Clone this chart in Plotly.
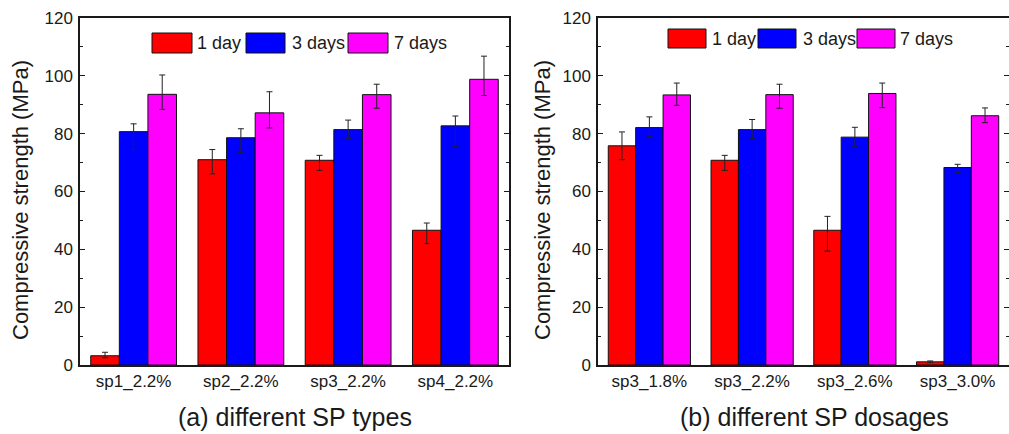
import plotly.graph_objects as go

# ---------------- data ----------------
series_names = ["1 day", "3 days", "7 days"]
series_colors = ["#FF0000", "#0000FF", "#FF00FF"]

cats_a = ["sp1_2.2%", "sp2_2.2%", "sp3_2.2%", "sp4_2.2%"]
a_1d = [3.2, 71.0, 70.8, 46.6]
a_1d_up = [1.2, 3.5, 1.7, 2.5]
a_1d_dn = [0.7, 4.9, 3.5, 4.6]
a_3d = [80.7, 78.6, 81.4, 82.7]
a_3d_up = [2.7, 3.1, 3.3, 3.4]
a_3d_dn = [6.1, 5.2, 3.0, 7.2]
a_7d = [93.6, 87.2, 93.5, 98.8]
a_7d_up = [6.7, 7.3, 3.6, 8.0]
a_7d_dn = [5.2, 5.2, 4.7, 5.6]

cats_b = ["sp3_1.8%", "sp3_2.2%", "sp3_2.6%", "sp3_3.0%"]
b_1d = [75.8, 70.8, 46.6, 1.1]
b_1d_up = [4.8, 1.7, 4.8, 0.3]
b_1d_dn = [4.8, 3.5, 7.2, 0.3]
b_3d = [82.1, 81.4, 78.8, 68.3]
b_3d_up = [3.7, 3.5, 3.4, 1.1]
b_3d_dn = [3.0, 3.0, 3.1, 1.7]
b_7d = [93.4, 93.5, 93.9, 86.2]
b_7d_up = [4.1, 3.6, 3.6, 2.7]
b_7d_dn = [3.6, 4.7, 4.9, 2.4]

y_ticks = [0, 20, 40, 60, 80, 100, 120]
y_title = "Compressive strength (MPa)"
sub_a = "(a) different SP types"
sub_b = "(b) different SP dosages"

FONT = "Arial, Liberation Sans, sans-serif"
INK = "#1a1a1a"

fig = go.Figure()

panel_a = [(a_1d, a_1d_up, a_1d_dn), (a_3d, a_3d_up, a_3d_dn), (a_7d, a_7d_up, a_7d_dn)]
panel_b = [(b_1d, b_1d_up, b_1d_dn), (b_3d, b_3d_up, b_3d_dn), (b_7d, b_7d_up, b_7d_dn)]

for cats, panel, xa, ya in [(cats_a, panel_a, "x", "y"), (cats_b, panel_b, "x2", "y2")]:
    for (vals, up, dn), name, col in zip(panel, series_names, series_colors):
        fig.add_trace(go.Bar(
            x=cats, y=vals, name=name, xaxis=xa, yaxis=ya, showlegend=False,
            marker=dict(color=col, line=dict(color="#111", width=1)),
            error_y=dict(type="data", symmetric=False, array=up, arrayminus=dn,
                         color="#222", thickness=1, width=3),
        ))

W, H = 1009, 434
xa_dom = [80 / W, 509 / W]
xb_dom = [598 / W, 1.0]
y_dom = [1 - 365 / H, 1 - 18 / H]

xcommon = dict(type="category", range=[-0.5, 3.5], showline=True, linewidth=1.5,
               linecolor=INK, mirror=True, ticks="", showgrid=False, zeroline=False,
               automargin=False,
               tickfont=dict(family=FONT, size=17, color=INK))
ycommon = dict(range=[0, 120], tickvals=y_ticks, showline=True, linewidth=1.5,
               linecolor=INK, mirror="ticks", ticks="inside", ticklen=5, tickwidth=1.2,
               tickcolor=INK, showgrid=False, zeroline=False, automargin=False,
               minor=dict(dtick=10, ticks="inside", ticklen=3, tickwidth=1.2, tickcolor=INK),
               tickfont=dict(family=FONT, size=17, color=INK), ticklabelstandoff=2)

fig.update_layout(
    width=W, height=H, margin=dict(l=0, r=0, t=0, b=0, pad=0),
    paper_bgcolor="white", plot_bgcolor="white",
    barmode="group", bargap=0.2, bargroupgap=0,
    xaxis=dict(domain=xa_dom, anchor="y", **xcommon),
    yaxis=dict(domain=y_dom, anchor="x", **ycommon),
    xaxis2=dict(domain=xb_dom, anchor="y2", **xcommon),
    yaxis2=dict(domain=y_dom, anchor="x2", **ycommon),
    font=dict(family=FONT, color=INK),
)

# y titles and panel captions
for xc, txt in [(20, y_title), (542, y_title)]:
    fig.add_annotation(x=xc / W, y=1 - 200 / H, xref="paper", yref="paper",
                       text=txt, textangle=-90, showarrow=False,
                       font=dict(family=FONT, size=22, color=INK),
                       xanchor="center", yanchor="middle")
for xc, txt in [(295, sub_a), (814, sub_b)]:
    fig.add_annotation(x=xc / W, y=1 - 417 / H, xref="paper", yref="paper",
                       text=txt, showarrow=False,
                       font=dict(family=FONT, size=25, color=INK),
                       xanchor="center", yanchor="middle")

# custom legends (large swatches)
legend_layouts = [
    dict(boxes=[(152, 192), (246, 285), (348, 388)], texts=[195, 290, 392], y0=33, y1=53),
    dict(boxes=[(668, 706), (758, 796), (857, 895)], texts=[710, 801, 898], y0=29, y1=48),
]
for lg in legend_layouts:
    for (bx0, bx1), tx, name, col in zip(lg["boxes"], lg["texts"], series_names, series_colors):
        fig.add_shape(type="rect", xref="paper", yref="paper",
                      x0=bx0 / W, x1=bx1 / W, y0=1 - lg["y1"] / H, y1=1 - lg["y0"] / H,
                      fillcolor=col, line=dict(color="#111", width=1))
        fig.add_annotation(x=tx / W, y=1 - (lg["y0"] + lg["y1"]) / 2 / H,
                           xref="paper", yref="paper", text=name, showarrow=False,
                           xanchor="left", yanchor="middle",
                           font=dict(family=FONT, size=18, color=INK))

fig.write_html("out.html")
